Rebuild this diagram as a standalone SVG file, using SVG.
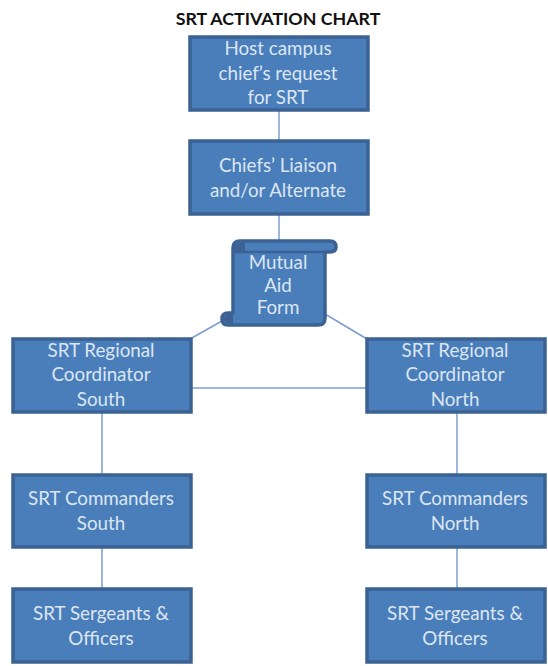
<svg xmlns="http://www.w3.org/2000/svg" width="548" height="666" viewBox="0 0 548 666">
<style>
.b{fill:#4a7ebb;stroke:#3b6292;stroke-width:3.5}
.t{font-family:Lato,"Open Sans",sans-serif;font-size:18.8px;fill:#dce6f2;text-anchor:middle}
.c{stroke:#7a9fce;stroke-width:1.5;fill:none}
.f{fill:#3b6292}
</style>
<rect width="548" height="666" fill="#fff"/>
<text x="278" y="25" text-anchor="middle" style="font-family:Lato,'Open Sans',sans-serif;font-size:17.8px;font-weight:700;fill:#111">SRT ACTIVATION CHART</text>
<g id="connectors">
<path class="c" d="M279 110V141"/>
<path class="c" d="M279 214V241"/>
<path class="c" d="M222 321L190 339"/>
<path class="c" d="M325 314L367 339"/>
<path class="c" d="M191 388H367"/>
<path class="c" d="M102 412V475"/>
<path class="c" d="M102 547V589"/>
<path class="c" d="M457 412V475"/>
<path class="c" d="M457 547V589"/>
</g>
<g id="n1"><rect class="b" x="190" y="37" width="178" height="73"/><text class="t"><tspan x="278" y="55">Host campus</tspan><tspan x="278" y="80">chief’s request</tspan><tspan x="278" y="104">for SRT</tspan></text></g>
<g id="n2"><rect class="b" x="190" y="141" width="178" height="73"/><text class="t"><tspan x="278" y="172">Chiefs’ Liaison</tspan><tspan x="278" y="197">and/or Alternate</tspan></text></g>
<g id="n3">
<path class="b" stroke-linejoin="round" d="M233 248Q233 241 240 241H330Q336 241 336 247Q336 252 330 252H325V318Q325 325 318 325H228Q222 325 222 319Q222 313 228 313H233Z"/>
<path class="f" d="M234 252V246Q238 242 245 243V252Z"/>
<path class="c" style="stroke:#3b6292;stroke-width:2.5" d="M233 252H325"/>
<path class="f" d="M223 320Q225 314 233 313V323Q228 325 223 320Z"/>
<text class="t"><tspan x="278" y="269">Mutual</tspan><tspan x="278" y="292">Aid</tspan><tspan x="278" y="314">Form</tspan></text></g>
<g id="n4"><rect class="b" x="13" y="339" width="178" height="73"/><text class="t"><tspan x="101" y="357">SRT Regional</tspan><tspan x="101" y="381">Coordinator</tspan><tspan x="101" y="406">South</tspan></text></g>
<g id="n5"><rect class="b" x="367" y="339" width="178" height="73"/><text class="t"><tspan x="455" y="357">SRT Regional</tspan><tspan x="455" y="381">Coordinator</tspan><tspan x="455" y="406">North</tspan></text></g>
<g id="n6"><rect class="b" x="13" y="475" width="178" height="72"/><text class="t"><tspan x="101" y="505">SRT Commanders</tspan><tspan x="101" y="530">South</tspan></text></g>
<g id="n7"><rect class="b" x="367" y="475" width="178" height="72"/><text class="t"><tspan x="455" y="505">SRT Commanders</tspan><tspan x="455" y="530">North</tspan></text></g>
<g id="n8"><rect class="b" x="13" y="589" width="178" height="73"/><text class="t"><tspan x="101" y="620">SRT Sergeants &amp;</tspan><tspan x="101" y="645">Officers</tspan></text></g>
<g id="n9"><rect class="b" x="367" y="589" width="178" height="73"/><text class="t"><tspan x="455" y="620">SRT Sergeants &amp;</tspan><tspan x="455" y="645">Officers</tspan></text></g>
</svg>
